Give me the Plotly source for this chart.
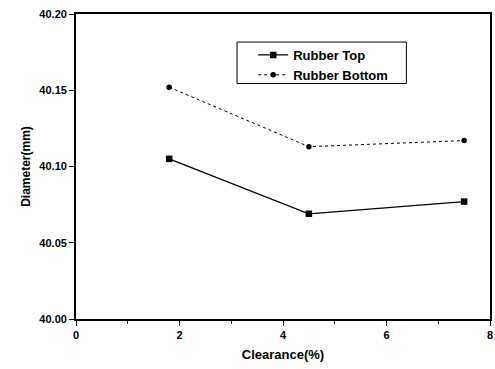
import plotly.graph_objects as go

clearance = [1.8, 4.5, 7.5]
rubber_top = [40.105, 40.069, 40.077]
rubber_bottom = [40.152, 40.113, 40.117]
x_ticks = [0, 2, 4, 6, 8]
y_ticks = [40.00, 40.05, 40.10, 40.15, 40.20]

fig = go.Figure()
fig.add_trace(go.Scatter(
    x=clearance, y=rubber_top, name="Rubber Top", mode="lines+markers",
    line=dict(color="black", width=1.2),
    marker=dict(symbol="square", size=6.5, color="black"),
))
fig.add_trace(go.Scatter(
    x=clearance, y=rubber_bottom, name="Rubber Bottom", mode="lines+markers",
    line=dict(color="black", width=1, dash="dot"),
    marker=dict(symbol="circle", size=5.5, color="black"),
))

font_family = "Liberation Sans, Arial, sans-serif"
fig.update_layout(
    width=495, height=369,
    margin=dict(l=76, r=3, t=14, b=50),
    paper_bgcolor="white", plot_bgcolor="white",
    font=dict(family=font_family, color="black"),
    showlegend=True,
    legend=dict(
        x=0.428, y=0.915, xanchor="left", yanchor="top",
        bgcolor="rgba(0,0,0,0)", borderwidth=0,
        font=dict(size=13, family=font_family, weight="bold"),
        tracegroupgap=0, itemwidth=30,
    ),
    shapes=[dict(
        type="rect", xref="paper", yref="paper",
        x0=0.389, x1=0.798, y0=0.772, y1=0.908,
        line=dict(color="black", width=1), fillcolor="rgba(0,0,0,0)", layer="below",
    )],
    xaxis=dict(
        range=[0, 8], tickvals=x_ticks, ticktext=[str(v) for v in x_ticks],
        showgrid=False, zeroline=False,
        showline=True, linecolor="black", linewidth=1.8, mirror=True,
        ticks="outside", ticklen=5, tickwidth=1.2, tickcolor="black",
        minor=dict(ticks="outside", ticklen=3, tickwidth=1, tickcolor="black", dtick=1, tick0=1, showgrid=False),
        tickfont=dict(size=11, weight="bold"),
        title=dict(text="Clearance(%)", font=dict(size=13, weight="bold"), standoff=10),
    ),
    yaxis=dict(
        range=[40.0, 40.2], tickvals=y_ticks, ticktext=[f"{v:.2f}" for v in y_ticks],
        showgrid=False, zeroline=False,
        showline=True, linecolor="black", linewidth=1.8, mirror=True,
        ticks="outside", ticklen=5, tickwidth=1.2, tickcolor="black",
        tickfont=dict(size=11, weight="bold"),
        title=dict(text="Diameter(mm)", font=dict(size=12, weight="bold"), standoff=6),
    ),
)

fig.write_html("out.html")
